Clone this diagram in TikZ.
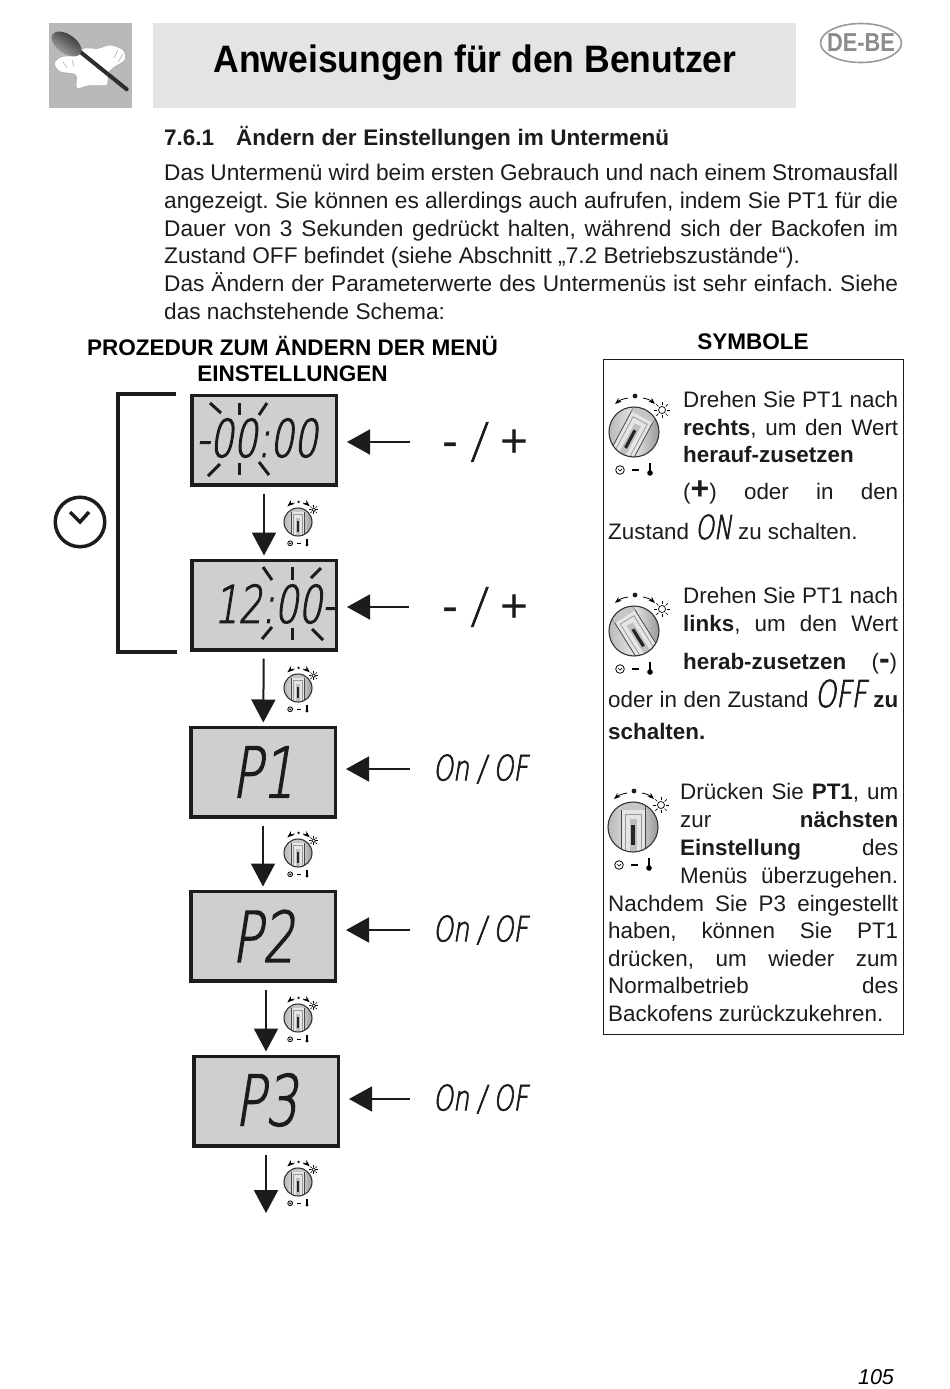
\documentclass[tikz,border=0pt]{standalone}
\usepackage{amsmath, amssymb, amsfonts}
\usepackage{fontspec}
\setmainfont{Liberation Sans}
\newfontfamily\lcdfont[FakeSlant=0.16,FakeStretch=0.72,FakeBold=2]{DejaVu Sans ExtraLight}
\newfontfamily\titlefont[FakeStretch=0.93]{Liberation Sans Bold}
\newfontfamily\tagfont[FakeStretch=0.84]{Liberation Sans Bold}
\usetikzlibrary{arrows.meta, calc, shapes.geometric}
\definecolor{lcdgray}{HTML}{CFCFCF}
\definecolor{bandgray}{HTML}{E4E4E4}
\definecolor{logogray}{HTML}{B9B9B9}
\definecolor{inkblack}{HTML}{1C1C1C}
\newcommand{\fitline}[2]{\ifdim#1pt=0pt\hbox{#2}\else\hbox to #1pt{#2}\fi}
\newcommand{\lcdsize}[1]{\lcdfont\fontsize{#1}{#1}\selectfont}
\frenchspacing
\tikzset{
    lcdbox/.style={draw=inkblack, fill=lcdgray, line width=3.5pt, minimum width=144.5pt, minimum height=89.5pt},
    lcdtext/.style={inner sep=0pt, text=inkblack},
    seltext/.style={inner sep=0pt, anchor=west, text=inkblack},
    bodyline/.style={inner sep=0pt, anchor=base west, text=inkblack, font=\fontsize{22.4}{27}\selectfont},
    headline/.style={inner sep=0pt, text=black, font=\bfseries\fontsize{22.55}{27}\selectfont},
    flowarrow/.style={-{Triangle[length=23pt,width=24pt]}, line width=2pt, draw=inkblack, shorten <=7pt, shorten >=3pt},
    enterarrow/.style={-{Triangle[length=23pt,width=25pt]}, line width=1.8pt, draw=inkblack, shorten >=9pt},
    raybar/.style={line width=3pt, draw=inkblack},
    pics/knob/.style={code={
        \draw[line width=.8pt, ->, >=Stealth] (-6,-34) to[bend right=15] (-19,-28);
        \draw[line width=.8pt, ->, >=Stealth] (9,-34) to[bend left=15] (21,-28);
        \fill[inkblack] (1,-36) circle (2.4pt);
        \draw[line width=.7pt] (28,-22) circle (3.5pt);
        \foreach \a in {0,45,...,315}
            \draw[line width=.7pt] (28,-22) ++(\a:5pt) -- ++(\a:3pt);
        \shade[left color=gray!55, right color=gray!80, middle color=gray!20] (0,0) circle (25pt);
        \begin{scope}
            \clip (0,0) circle (25pt);
            \begin{scope}[rotate=#1]
                \fill[white!90!black] (-12pt,-26pt) rectangle (12pt,26pt);
                \draw[line width=.8pt, gray!55!black] (-12pt,-26pt) -- (-12pt,26pt) (12pt,-26pt) -- (12pt,26pt);
                \draw[line width=.8pt, gray!80] (-8pt,-26pt) -- (-8pt,13pt) -- (8pt,13pt) -- (8pt,-26pt);
                \fill[gray!50] (-3.5pt,-26pt) rectangle (3.5pt,8pt);
                \fill[black!85] (-1.6pt,-18pt) rectangle (1.6pt,2pt);
                \fill[gray!45] (-12pt,17pt) rectangle (12pt,26pt);
            \end{scope}
        \end{scope}
        \draw[line width=1.1pt, black!80] (0,0) circle (25pt);
        \draw[line width=.8pt] (-14,38) circle (4.3pt);
        \draw[line width=.7pt] (-16,37) -- (-14,39) -- (-12,37);
        \draw[line width=1.4pt] (-2,38) -- (5,38);
        \draw[line width=1.7pt] (16,31) -- (16,39);
        \fill (16,41) circle (2.8pt);
    }}
}
\begin{document}
\begin{tikzpicture}[x=1pt, y=-1pt]
    \useasboundingbox (0,0) rectangle (950,1389);
    \fill[white] (0,0) rectangle (950,1389);
    \fill[logogray] (49,23) rectangle (132,108);
    \fill[bandgray] (153,23) rectangle (796,108);
    \draw[line width=.5pt, gray!70, fill=white] plot[smooth cycle] coordinates {(76.7,88.3) (75.7,75) (60,71.7) (54.3,63.3) (61.7,56.7) (78.3,55) (83.3,48.3) (98.3,48.3) (110,45) (123.3,50) (125,60) (115,66.7) (108.3,73.3) (106.7,85) (90,85)};
    \fill[white] (77,70) -- (108,66) -- (106.5,85) -- (90,85) -- (77,88) -- cycle;
    \draw[line width=.5pt, gray!70] (63,62) -- (67,68) (72,60) -- (74,66) (118,50) -- (114,58) (123,54) -- (118,62);
    \draw[line width=4pt, gray!35!black, line cap=round] (80,51.7) -- (126.7,89.3);
    \shade[left color=black!85, right color=gray!60, shading angle=-35] (66.5,44) ellipse[x radius=17pt, y radius=9.5pt, rotate=-35];
    \node[inner sep=0pt, font=\titlefont\fontsize{38.2}{42}\selectfont] (title) at (475,62.5) {Anweisungen für den Benutzer};
    \node[ellipse, draw=gray!80, line width=1.6pt, minimum width=81pt, minimum height=39pt, inner sep=-12pt, text=gray!90, font=\tagfont\fontsize{26}{26}\selectfont] (langtag) at (861,43) {DE-BE};
    \node[bodyline, font=\bfseries\fontsize{22.5}{27}\selectfont] (sectitle) at (164,145) {\hbox to 505pt{7.6.1\hspace{22pt}Ändern der Einstellungen im Untermenü}};
    \foreach \ypos/\wid/\txt [count=\n] in {
        180/734/{Das Untermenü wird beim ersten Gebrauch und nach einem Stromausfall},
        208/734/{angezeigt. Sie können es allerdings auch aufrufen, indem Sie PT1 für die},
        236/734/{Dauer von 3 Sekunden gedrückt halten, während sich der Backofen im},
        263/0/{Zustand OFF befindet (siehe Abschnitt „7.2 Betriebszustände“).},
        291/734/{Das Ändern der Parameterwerte des Untermenüs ist sehr einfach. Siehe},
        319/0/{das nachstehende Schema:}}
        \node[bodyline, font=\fontsize{22.65}{27}\selectfont] (intro\n) at (164,\ypos) {\fitline{\wid}{\txt}};
    \node[headline] (prochead) at (292.5,345.5) {PROZEDUR ZUM ÄNDERN DER MENÜ};
    \node[headline] (prochead2) at (292.5,374) {EINSTELLUNGEN};
    \node[headline] (symhead) at (753,342) {SYMBOLE};

    \node[lcdbox] (disp1) at (264,440) {};
    \node[lcdbox] (disp2) at (264,605) {};
    \node[lcdbox] (disp3) at (263,772) {};
    \node[lcdbox] (disp4) at (263,936) {};
    \node[lcdbox] (disp5) at (266,1101) {};
    \node[lcdtext] (time1) at (257,438) {\lcdsize{52}-00:00};
    \node[lcdtext] (time2) at (275,604) {\lcdsize{52}12:00-};
    \node[lcdtext] (par1) at (263,772) {\lcdsize{70}P1};
    \node[lcdtext] (par2) at (263,936) {\lcdsize{70}P2};
    \node[lcdtext] (par3) at (266,1100) {\lcdsize{70}P3};
    \foreach \xa/\ya/\xb/\yb in {210/403/221/413, 239/403/239/415, 267/403/259/415, 208/476/220/464, 239/463/239/475, 259/462/269/475, 263/567/272/580, 292/567/292/580, 321/568/311/578, 272/627/262/639, 292/628/292/640, 312/629/323/640}
        \draw[raybar] (\xa,\ya) -- (\xb,\yb);

    \coordinate (brtop) at (176,394);
    \coordinate (brbot) at (177,652);
    \draw[line width=3.5pt, draw=inkblack] (brtop) -- (118,394) -- (118,652) -- (brbot);
    \node[circle, draw=inkblack, line width=3.5pt, minimum size=49.5pt, inner sep=0pt] (clock) at (80,522) {};
    \draw[line width=3.5pt, draw=inkblack] ($(clock)+(-10,-10)$) -- (clock.center) -- ($(clock)+(9,-10)$);

    \draw[flowarrow] (disp1) -- (disp2);
    \draw[flowarrow] (disp2) -- (disp3);
    \draw[flowarrow] (disp3) -- (disp4);
    \draw[flowarrow] (disp4.south -| disp5) -- (disp5.north);
    \coordinate (flowend) at (266,1216);
    \draw[flowarrow] (disp5) -- (flowend);

    \node[seltext, font=\fontsize{48}{48}\selectfont] (sel1) at (442,442) {- {\lcdsize{48}/}\hspace{4pt} +};
    \node[seltext, font=\fontsize{48}{48}\selectfont] (sel2) at (442,607) {- {\lcdsize{48}/}\hspace{4pt} +};
    \node[seltext] (sel3) at (433,769) {\lcdsize{35}On / OF};
    \node[seltext] (sel4) at (433,930) {\lcdsize{35}On / OF};
    \node[seltext] (sel5) at (433,1099) {\lcdsize{35}On / OF};
    \draw[enterarrow, shorten <=32pt] (sel1.west) -- (sel1.west -| disp1.east);
    \draw[enterarrow, shorten <=33pt] (sel2.west) -- (sel2.west -| disp2.east);
    \draw[enterarrow, shorten <=23pt] (sel3.west) -- (sel3.west -| disp3.east);
    \draw[enterarrow, shorten <=23pt] (sel4.west) -- (sel4.west -| disp4.east);
    \draw[enterarrow, shorten <=23pt] (sel5.west) -- (sel5.west -| disp5.east);

    \pic[scale=.56] at (298,522) {knob=0};
    \pic[scale=.56] at (298,688) {knob=0};
    \pic[scale=.56] at (298,853) {knob=0};
    \pic[scale=.56] at (298,1018) {knob=0};
    \pic[scale=.56] at (298,1182) {knob=0};

    \node[draw=inkblack, line width=1pt, minimum width=300pt, minimum height=675pt] (symbox) at (753,696.5) {};
    \pic at (634,432) {knob=-28};
    \pic at (634,631) {knob=32};
    \pic at (633,827) {knob=0};
    \foreach \xpos/\ypos/\wid/\txt [count=\n] in {
        683/407/215/{Drehen Sie PT1 nach},
        683/435/215/{\textbf{rechts}, um den Wert},
        683/462/0/{\textbf{herauf-zusetzen}},
        683/499/215/{({\bfseries\fontsize{32}{32}\selectfont +}) oder in den},
        608/539/0/{Zustand {\lcdsize{33}ON} zu schalten.},
        683/603/215/{Drehen Sie PT1 nach},
        683/631/215/{\textbf{links}, um den Wert},
        683/669/214/{\textbf{herab-zusetzen} ({\bfseries\fontsize{32}{32}\selectfont -})},
        608/707/290/{oder in den Zustand {\lcdsize{37}OFF} \textbf{zu}},
        608/739/0/{\textbf{schalten.}},
        680/799/218/{Drücken Sie \textbf{PT1}, um},
        680/827/218/{zur \textbf{nächsten}},
        680/855/218/{\textbf{Einstellung} des},
        680/883/218/{Menüs überzugehen.},
        608/911/290/{Nachdem Sie P3 eingestellt},
        608/938/290/{haben, können Sie PT1},
        608/966/290/{drücken, um wieder zum},
        608/993/290/{Normalbetrieb des},
        608/1021/0/{Backofens zurückzukehren.}}
        \node[bodyline] (sym\n) at (\xpos,\ypos) {\fitline{\wid}{\txt}};

    \node[inner sep=0pt, font=\itshape\fontsize{21.5}{21.5}\selectfont] (pageno) at (876,1377.5) {105};
\end{tikzpicture}
\end{document}
